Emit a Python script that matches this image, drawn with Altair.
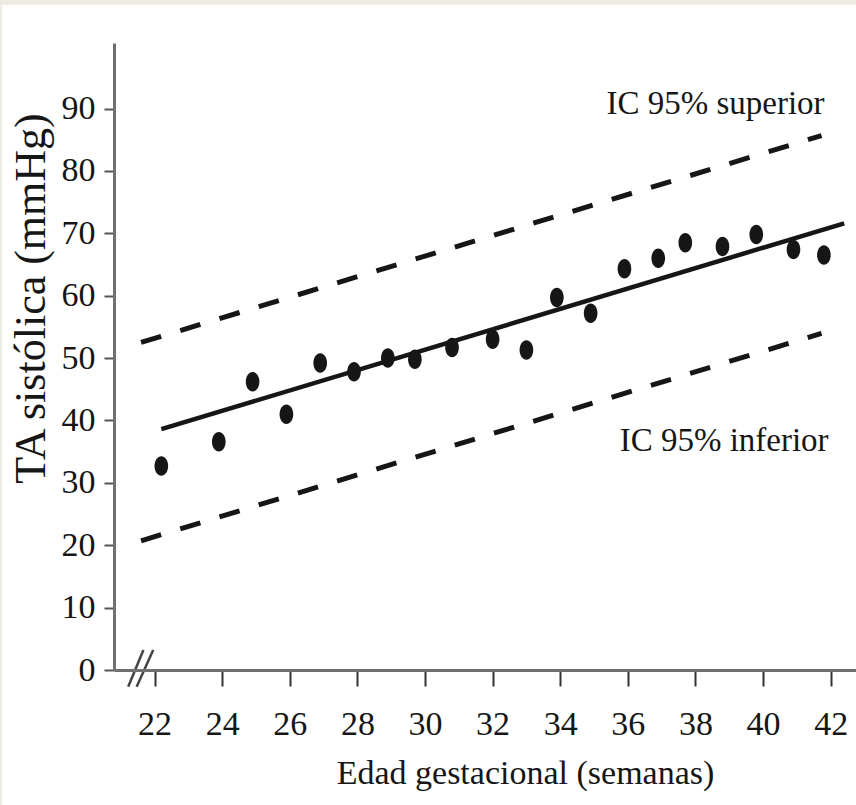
import altair as alt
import pandas as pd

# ---- data ----
weeks = [22.2, 23.9, 24.9, 25.9, 26.9, 27.9, 28.9, 29.7, 30.8, 32.0,
         33.0, 33.9, 34.9, 35.9, 36.9, 37.7, 38.8, 39.8, 40.9, 41.8]
sbp = [32.7, 36.6, 46.2, 41.0, 49.2, 47.8, 50.0, 49.8, 51.7, 53.0,
       51.3, 59.7, 57.2, 64.3, 66.0, 68.5, 67.9, 69.8, 67.4, 66.5]

fit_x = [22.2, 42.4]
fit_y = [38.6, 71.6]
upper_x = [21.6, 41.73]
upper_y = [52.5, 85.66]
lower_x = [21.6, 41.73]
lower_y = [20.7, 53.96]

label_text = ["IC 95% superior", "IC 95% inferior"]
label_x = [41.82, 41.94]
label_y = [89.1, 35.1]

break_x = [21.22, 21.47]
break_x2 = [21.67, 21.96]
break_y = [-2.7, -2.7]
break_y2 = [3.2, 3.2]

x_ticks = list(range(22, 43))
y_ticks = list(range(0, 100, 10))

X_DOMAIN = [20.8, 42.75]
Y_DOMAIN = [0, 100.5]
W, H = 742, 627
FONT = "Liberation Serif"
INK = "#161616"

pts = pd.DataFrame({"x": weeks, "y": sbp})
fit = pd.DataFrame({"x": fit_x, "y": fit_y})
up = pd.DataFrame({"x": upper_x, "y": upper_y})
lo = pd.DataFrame({"x": lower_x, "y": lower_y})
lab = pd.DataFrame({"t": label_text, "x": label_x, "y": label_y})
brk = pd.DataFrame({"x": break_x, "x2": break_x2, "y": break_y, "y2": break_y2})

xs = alt.Scale(domain=X_DOMAIN, nice=False, zero=False)
ys = alt.Scale(domain=Y_DOMAIN, nice=False, zero=False)

# white panel behind the chart (thin beige frame around it)
panel = alt.Chart(pd.DataFrame({"a": [0]})).mark_rect(color="white").encode(
    x=alt.value(-112), x2=alt.value(W + 2), y=alt.value(-38), y2=alt.value(H + 140)
)

points = alt.Chart(pts).mark_point(
    filled=True, color=INK, opacity=1,
    shape="M0,-1 A0.7,1 0 1,1 0,1 A0.7,1 0 1,1 0,-1 Z", size=380,
).encode(
    x=alt.X("x:Q", scale=xs, axis=alt.Axis(
        values=x_ticks, zindex=1,
        labelExpr="datum.value % 2 == 0 ? datum.label : ''",
        title="Edad gestacional (semanas)",
        grid=False, tickSize=16, tickWidth=2, tickColor="#333333",
        domainColor="#707070", domainWidth=3,
        labelFont=FONT, labelFontSize=34, labelColor=INK, labelPadding=21,
        labelFlush=False, labelOverlap=False,
        titleFont=FONT, titleFontSize=34, titleFontWeight="normal", titleColor=INK,
        titleX=411, titleY=113, titleAlign="center", titleBaseline="alphabetic",
    )),
    y=alt.Y("y:Q", scale=ys, axis=alt.Axis(
        values=y_ticks, zindex=1, title="TA sistólica (mmHg)",
        grid=False, tickSize=10, tickWidth=2, tickColor="#555555",
        domainColor="#707070", domainWidth=3,
        labelFont=FONT, labelFontSize=34, labelColor=INK, labelPadding=9,
        labelFlush=False, labelOverlap=False,
        titleFont=FONT, titleFontSize=44, titleFontWeight="normal", titleColor=INK,
        titleX=-83, titleY=255, titleAngle=270, titleAlign="center",
        titleBaseline="middle",
    )),
)

fit_line = alt.Chart(fit).mark_line(color=INK, strokeWidth=4.5).encode(
    x=alt.X("x:Q", scale=xs), y=alt.Y("y:Q", scale=ys)
)
up_line = alt.Chart(up).mark_line(color=INK, strokeWidth=5, strokeDash=[21, 20]).encode(
    x=alt.X("x:Q", scale=xs), y=alt.Y("y:Q", scale=ys)
)
lo_line = alt.Chart(lo).mark_line(color=INK, strokeWidth=5, strokeDash=[21, 20]).encode(
    x=alt.X("x:Q", scale=xs), y=alt.Y("y:Q", scale=ys)
)

labels = alt.Chart(lab).mark_text(
    font=FONT, fontSize=33, color=INK, align="right", baseline="alphabetic"
).encode(
    x=alt.X("x:Q", scale=xs), y=alt.Y("y:Q", scale=ys), text="t:N"
)

breaks = alt.Chart(brk).mark_rule(color="#444444", strokeWidth=2.5).encode(
    x=alt.X("x:Q", scale=xs), x2="x2:Q", y=alt.Y("y:Q", scale=ys), y2="y2:Q"
)

chart = alt.layer(panel, up_line, lo_line, fit_line, points, labels, breaks).properties(
    width=W, height=H,
    autosize=alt.AutoSizeParams(type="none"),
    padding={"left": 114, "top": 43, "right": 0, "bottom": 135},
    background="#EEEBE3",
).configure_view(stroke=None)

chart.save("out.html", embed_options={"renderer": "svg", "actions": False})
